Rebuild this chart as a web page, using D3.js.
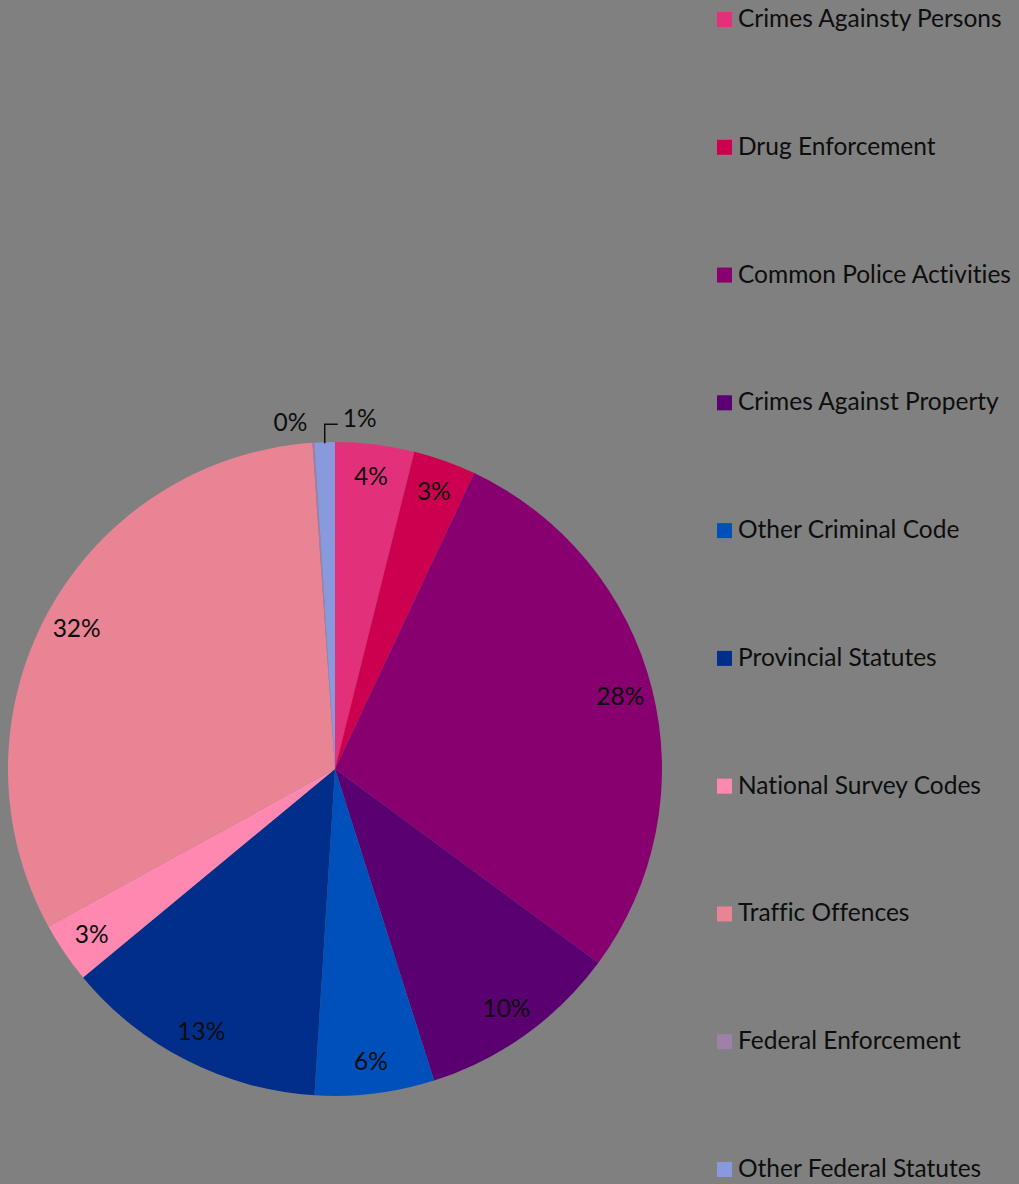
<!DOCTYPE html>
<html>
<head>
<meta charset="utf-8">
<script src="https://cdn.jsdelivr.net/npm/d3@7"></script>
<style>
  html, body { margin: 0; padding: 0; background: #808080; }
  svg { display: block; }
  text { font-variant-ligatures: none; font-feature-settings: "liga" 0, "clig" 0; }
</style>
</head>
<body>
<div id="pieChart"></div>
<script>
// categories and shares (percent), clockwise from 12 o'clock
var categories = ["Crimes Againsty Persons", "Drug Enforcement", "Common Police Activities",
    "Crimes Against Property", "Other Criminal Code", "Provincial Statutes",
    "National Survey Codes", "Traffic Offences", "Federal Enforcement", "Other Federal Statutes"];
var shares = [3.9, 3.1, 28.1, 10.0, 5.9, 13.0, 3.0, 31.9, 0.1, 1.0];
var colors = ["#e2317a", "#cc004e", "#880070", "#5a0070", "#0050bb",
    "#002e8a", "#ff88b0", "#e98494", "#a080a8", "#8899dd"];

var width = 1019, height = 1184;
var cx = 335, cy = 769, radius = 327;
var fontFam = "Lato, 'Open Sans', sans-serif";
var fontSize = "24.5px";
var textCol = "#0d0d0d";

var data = categories.map(function(c, i) {
    return {type: c, count: shares[i]};
});
var total = d3.sum(shares);

var color = d3.scaleOrdinal().domain(categories).range(colors);

var svg = d3.select("#pieChart").append("svg")
    .attr("width", width)
    .attr("height", height);

svg.append("rect").attr("width", width).attr("height", height).attr("fill", "#808080");

var pieChartGroup = svg.append("g")
    .attr("transform", "translate(" + cx + "," + cy + ")");

var pie = d3.pie().sort(null).value(function(d) { return d.count; });
var path = d3.arc().outerRadius(radius).innerRadius(0);
var labelArc = d3.arc().outerRadius(radius * 0.9).innerRadius(radius * 0.9);

var arcs = pie(data);

var arc = pieChartGroup.selectAll(".arc")
    .data(arcs)
    .enter().append("g")
    .attr("class", "arc");

arc.append("path")
    .attr("d", path)
    .attr("fill", function(d) { return color(d.data.type); });

function pct(d) {
    return Math.round(d.data.count / total * 100) + "%";
}

// big slices: label inside
arc.filter(function(d) { return d.data.count >= 2; })
    .append("text")
    .attr("x", function(d) { return labelArc.centroid(d)[0]; })
    .attr("y", function(d) { return labelArc.centroid(d)[1]; })
    .attr("dy", "0.35em")
    .attr("text-anchor", "middle")
    .style("font-family", fontFam)
    .style("font-size", fontSize)
    .attr("fill", textCol)
    .text(pct);

// tiny slices: labels pulled outside the rim
var fed = arcs[8], other = arcs[9];
var pf = [radius * Math.sin(fed.startAngle), -radius * Math.cos(fed.startAngle)];
var po = [radius * Math.sin((other.startAngle + other.endAngle) / 2),
          -radius * Math.cos((other.startAngle + other.endAngle) / 2)];

pieChartGroup.append("text")
    .attr("x", pf[0] - 5)
    .attr("y", pf[1] - 12)
    .attr("text-anchor", "end")
    .style("font-family", fontFam)
    .style("font-size", fontSize)
    .attr("fill", textCol)
    .text(pct(fed));

pieChartGroup.append("path")
    .attr("d", "M" + po[0] + "," + (po[1] + 1) + "V" + (po[1] - 18) + "H" + (po[0] + 13))
    .attr("fill", "none")
    .attr("stroke", "#0d0d0d")
    .attr("stroke-width", 1.5);

pieChartGroup.append("text")
    .attr("x", po[0] + 18)
    .attr("y", po[1] - 15)
    .style("font-family", fontFam)
    .style("font-size", fontSize)
    .attr("fill", textCol)
    .text(pct(other));

// legend
var ledgends = svg.append("g").attr("transform", "translate(717,0)");
var legY = d3.scalePoint().domain(categories).range([27, 1177]);

var legend = ledgends.selectAll(".ledgends")
    .data(data)
    .enter().append("g")
    .classed("ledgends", true)
    .attr("transform", function(d) { return "translate(0," + legY(d.type) + ")"; });

legend.append("rect")
    .attr("y", -15)
    .attr("width", 15)
    .attr("height", 15)
    .attr("fill", function(d) { return color(d.type); });

legend.append("text")
    .attr("x", 21)
    .attr("y", 0)
    .style("font-family", fontFam)
    .style("font-size", fontSize)
    .attr("fill", textCol)
    .text(function(d) { return d.type; });
</script>
</body>
</html>
